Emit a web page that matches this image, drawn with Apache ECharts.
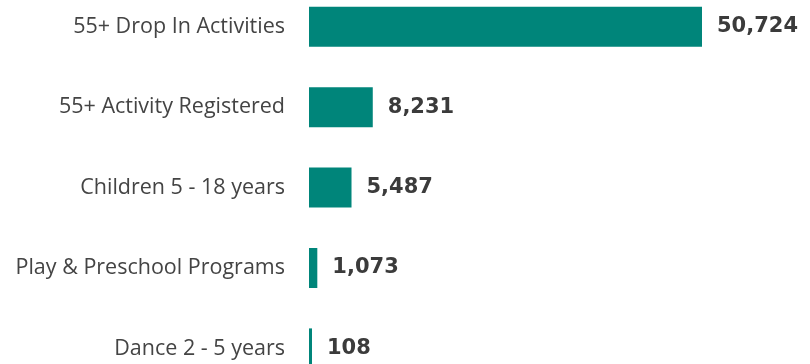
<!DOCTYPE html>
<html>
<head>
<meta charset="utf-8">
<script src="https://cdn.jsdelivr.net/npm/echarts@6/dist/echarts.min.js"></script>
<style>
  html, body { margin: 0; padding: 0; background: #ffffff; }
  #chart { width: 810px; height: 364px; }
</style>
</head>
<body>
<div id="chart"></div>
<script>
// Program participation by category
const categories = [
  '55+ Drop In Activities',
  '55+ Activity Registered',
  'Children 5 - 18 years',
  'Play & Preschool Programs',
  'Dance 2 - 5 years'
];
const participants = [50724, 8231, 5487, 1073, 108];

const chart = echarts.init(document.getElementById('chart'), null, { renderer: 'canvas' });

chart.setOption({
  animation: false,
  backgroundColor: '#ffffff',
  // category points sit on the grid edges (boundaryGap off), so top/height span first..last bar centre
  grid: { left: 309, right: 108, top: 26.8, height: 321.6 },
  xAxis: {
    type: 'value',
    min: 0,
    max: Math.max(...participants),
    show: false
  },
  yAxis: {
    type: 'category',
    inverse: true,
    boundaryGap: false,
    data: categories,
    axisLine: { show: false },
    axisTick: { show: false },
    splitLine: { show: false },
    axisLabel: {
      margin: 24,
      color: '#444444',
      fontFamily: '"Open Sans", sans-serif',
      fontSize: 21.5
    }
  },
  series: [{
    type: 'bar',
    data: participants,
    barWidth: 40,
    barMinHeight: 3,
    clip: false,
    itemStyle: { color: '#00857A' },
    label: {
      show: true,
      position: 'right',
      distance: 15,
      color: '#3b3b3b',
      fontFamily: '"DejaVu Sans", sans-serif',
      fontWeight: 'bold',
      fontSize: 21,
      formatter: p => p.value.toLocaleString('en-US')
    }
  }]
});
</script>
</body>
</html>
